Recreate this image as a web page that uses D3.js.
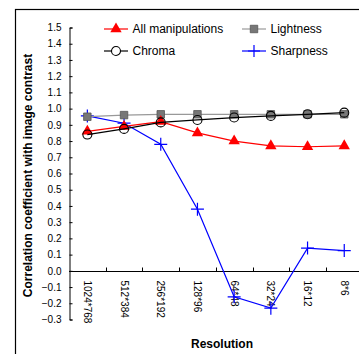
<!DOCTYPE html>
<html>
<head>
<meta charset="utf-8">
<script src="https://cdn.jsdelivr.net/npm/d3@7"></script>
<style>
body { margin: 0; background: #fff; }
svg { display: block; font-family: Arial, "Liberation Sans", sans-serif; }
</style>
</head>
<body>
<script>
var width = 359;
var height = 354;

var resolutions = ["1024*768", "512*384", "256*192", "128*96", "64*48", "32*24", "16*12", "8*6"];
var allManip   = [0.86, 0.89, 0.92, 0.85, 0.80, 0.77, 0.765, 0.77];
var lightness  = [0.95, 0.96, 0.965, 0.965, 0.965, 0.965, 0.965, 0.965];
var chroma     = [0.84, 0.875, 0.915, 0.93, 0.945, 0.955, 0.965, 0.975];
var sharpness  = [0.955, 0.91, 0.78, 0.38, -0.16, -0.23, 0.14, 0.125];
var yTicks = [-0.3, -0.2, -0.1, 0, 0.1, 0.2, 0.3, 0.4, 0.5, 0.6, 0.7, 0.8, 0.9, 1.0, 1.1, 1.2, 1.3, 1.4, 1.5];

var svg = d3.select("body").append("svg")
    .attr("width", width)
    .attr("height", height);

// outer frame (cut off at right and bottom like the source)
svg.append("rect")
    .attr("x", 15.5).attr("y", 9.5)
    .attr("width", 400).attr("height", 400)
    .attr("fill", "none").attr("stroke", "#000").attr("stroke-width", 1.2);

var x = d3.scaleBand()
    .domain(resolutions)
    .range([69, 69 + 8 * 36.7]);

var y = d3.scaleLinear()
    .domain([-0.3, 1.5])
    .range([319.5, 27.5]);

var cx = function(d, i) { return x(resolutions[i]) + x.bandwidth() / 2; };

// y axis
var yAxis = d3.axisLeft(y)
    .tickValues(yTicks)
    .tickSizeInner(-3)
    .tickSizeOuter(-3)
    .tickPadding(8)
    .tickFormat(d3.format(".1f"));

var gy = svg.append("g")
    .attr("transform", "translate(69.5,0)")
    .call(yAxis);
gy.selectAll("text").attr("font-size", 10).attr("fill", "#000").attr("font-family", "Arial, 'Liberation Sans', sans-serif");
gy.selectAll("line, path").attr("stroke", "#000");

// x axis along zero
var gx = svg.append("g")
    .attr("transform", "translate(0," + (Math.round(y(0)) + 0.5) + ")");
gx.append("line")
    .attr("x1", x.range()[0]).attr("x2", x.range()[1])
    .attr("stroke", "#000");
gx.selectAll(".tk")
    .data(resolutions.slice(1))
    .enter().append("line")
    .attr("x1", function(d) { return Math.round(x(d)) + 0.5; })
    .attr("x2", function(d) { return Math.round(x(d)) + 0.5; })
    .attr("y1", -4).attr("y2", 0)
    .attr("stroke", "#000");
gx.selectAll(".lbl")
    .data(resolutions)
    .enter().append("text")
    .attr("transform", function(d) { return "translate(" + (x(d) + x.bandwidth() / 2) + ",9) rotate(90)"; })
    .attr("dy", "0.35em")
    .attr("font-size", 10)
    .text(function(d) { return d; });

// axis titles
svg.append("text")
    .attr("transform", "translate(32,175.5) rotate(-90)")
    .attr("text-anchor", "middle")
    .attr("font-size", 12)
    .attr("font-weight", "bold")
    .text("Correlation coefficient with image contrast");

svg.append("text")
    .attr("x", 222).attr("y", 347.5)
    .attr("text-anchor", "middle")
    .attr("font-size", 12)
    .attr("font-weight", "bold")
    .text("Resolution");

var line = d3.line()
    .x(function(d, i) { return cx(d, i); })
    .y(function(d) { return y(d); });

var tri = d3.symbol().type(d3.symbolTriangle).size(56);
var sq = d3.symbol().type(d3.symbolSquare).size(56);

function plus(size) {
    return "M" + (-size) + ",0H" + size + "M0," + (-size) + "V" + size;
}

// Sharpness
svg.append("path").datum(sharpness)
    .attr("d", line).attr("fill", "none").attr("stroke", "#0000ff").attr("stroke-width", 1.2);
svg.selectAll(".sh").data(sharpness).enter().append("path")
    .attr("transform", function(d, i) { return "translate(" + cx(d, i) + "," + y(d) + ")"; })
    .attr("d", plus(6.5)).attr("stroke", "#0000ff").attr("stroke-width", 1.2);

// Lightness
svg.append("path").datum(lightness)
    .attr("d", line).attr("fill", "none").attr("stroke", "#999").attr("stroke-width", 1.2);
svg.selectAll(".li").data(lightness).enter().append("path")
    .attr("transform", function(d, i) { return "translate(" + cx(d, i) + "," + y(d) + ")"; })
    .attr("d", sq).attr("fill", "#777").attr("stroke", "#555").attr("stroke-width", 0.8);

// All manipulations
svg.append("path").datum(allManip)
    .attr("d", line).attr("fill", "none").attr("stroke", "#ff0000").attr("stroke-width", 1.2);
svg.selectAll(".am").data(allManip).enter().append("path")
    .attr("transform", function(d, i) { return "translate(" + cx(d, i) + "," + y(d) + ")"; })
    .attr("d", tri).attr("fill", "#ff0000");

// Chroma
svg.append("path").datum(chroma)
    .attr("d", line).attr("fill", "none").attr("stroke", "#000").attr("stroke-width", 1.2);
svg.selectAll(".ch").data(chroma).enter().append("circle")
    .attr("cx", function(d, i) { return cx(d, i); })
    .attr("cy", function(d) { return y(d); })
    .attr("r", 4.5)
    .attr("fill", "none").attr("stroke", "#000").attr("stroke-width", 1.1);

// legend
var legend = [
    { name: "All manipulations", x: 104, y: 29, color: "#ff0000", mark: "tri" },
    { name: "Lightness", x: 242, y: 29, color: "#999", mark: "sq" },
    { name: "Chroma", x: 104, y: 51, color: "#000", mark: "circ" },
    { name: "Sharpness", x: 242, y: 51, color: "#0000ff", mark: "plus" }
];
var lg = svg.selectAll(".lg").data(legend).enter().append("g")
    .attr("transform", function(d) { return "translate(" + d.x + "," + d.y + ")"; });
lg.append("line").attr("x1", 0).attr("x2", 24)
    .attr("stroke", function(d) { return d.color; }).attr("stroke-width", 1.2);
lg.each(function(d) {
    var g = d3.select(this);
    if (d.mark == "tri") g.append("path").attr("transform", "translate(12,0)").attr("d", tri).attr("fill", "#ff0000");
    if (d.mark == "sq") g.append("path").attr("transform", "translate(12,0)").attr("d", sq).attr("fill", "#777").attr("stroke", "#555").attr("stroke-width", 0.8);
    if (d.mark == "circ") g.append("circle").attr("cx", 12).attr("r", 4.5).attr("fill", "#fff").attr("stroke", "#000").attr("stroke-width", 1.1);
    if (d.mark == "plus") g.append("path").attr("transform", "translate(12,0)").attr("d", plus(6)).attr("stroke", "#0000ff").attr("stroke-width", 1.2);
});
lg.append("text")
    .attr("x", 28.5).attr("y", 4.3)
    .attr("font-size", 12)
    .text(function(d) { return d.name; });
</script>
</body>
</html>
